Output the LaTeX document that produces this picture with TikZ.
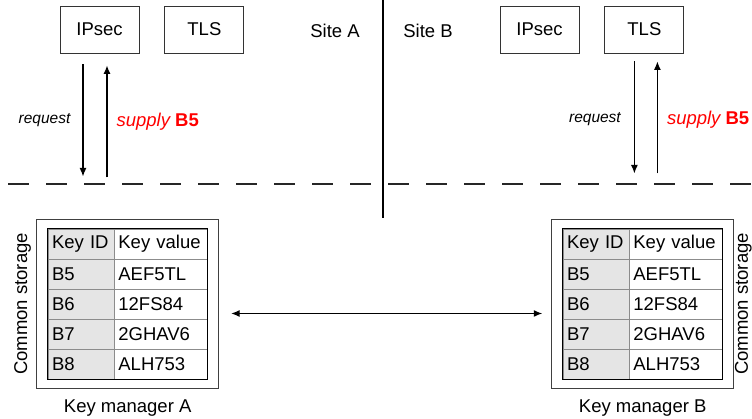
\documentclass[tikz,border=0pt]{standalone}
\usepackage{fontspec}
\setmainfont{Liberation Sans}
\usetikzlibrary{arrows.meta, positioning, fit}
\tikzset{
    proto/.style={rectangle, draw=black!80, line width=0.9pt, minimum width=79pt, minimum height=47pt, inner sep=0pt},
    site/.style={inner sep=0pt},
    idcell/.style={rectangle, draw=black!45, fill=gray!20, minimum width=66pt, minimum height=30pt, text width=58pt, align=left, inner sep=4pt},
    valcell/.style={rectangle, draw=black!45, fill=white, minimum width=93pt, minimum height=30pt, text width=85pt, align=left, inner sep=4pt},
    storebox/.style={rectangle, draw=black!75, line width=1.1pt, inner xsep=11pt, inner ysep=9pt},
    arrow/.style={-{Latex[length=8.5pt, width=7pt]}, line width=1.2pt},
    twoway/.style={{Latex[length=8.5pt, width=7pt]}-{Latex[length=8.5pt, width=7pt]}, line width=1.2pt},
    cutline/.style={dash pattern=on 20.7pt off 17.3pt, line width=1.2pt, black!85},
    request/.style={font=\fontsize{15.5}{18}\selectfont\itshape, inner sep=0pt},
    supply/.style={font=\fontsize{18.5}{22}\selectfont\itshape, text=red, inner sep=0pt},
}
\begin{document}
\begin{tikzpicture}[x=1pt, y=1pt, font=\fontsize{18.5}{22}\selectfont]
    \useasboundingbox (0,0) rectangle (752,419);

    % SITES
    \node[proto] (ipsecA) at (99.5,389.5) {IPsec};
    \node[proto, right=25pt of ipsecA] (tlsA) {TLS};
    \node[site] (siteA) at (335,388) {Site A};
    \node[site] (siteB) at (428,388) {Site B};
    \node[proto] (ipsecB) at (539.5,389.5) {IPsec};
    \node[proto, right=25pt of ipsecB] (tlsB) {TLS};

    % Separators
    \coordinate (sepTop) at (383,419);
    \coordinate (sepBot) at (383,201);
    \draw[line width=1.2pt] (sepTop) -- (sepBot);
    \coordinate (cutL) at (8,235);
    \coordinate (cutR) at (752,235);
    \draw[cutline] (cutL) -- (cutR);

    % Key tables
    \foreach \m/\x in {A/81, B/596} {
        \node[idcell] (\m-id-0) at (\x,175) {Key ID};
        \node[valcell, right=0pt of \m-id-0] (\m-val-0) {Key value};
        \foreach \k/\v [count=\i] in {B5/AEF5TL, B6/12FS84, B7/2GHAV6, B8/ALH753} {
            \node[idcell] (\m-id-\i) at (\x,{175-30*\i}) {\k};
            \node[valcell, right=0pt of \m-id-\i] (\m-val-\i) {\v};
        }
        \draw[line width=0.9pt] (\m-id-0.north west) rectangle (\m-val-4.south east);
        \node[storebox, fit=(\m-id-0)(\m-val-4)] (km\m) {};
        \node[below=11pt of km\m, inner sep=0pt] {Key manager \m};
    }
    \node[rotate=90, anchor=south, inner sep=0pt] (storeA) at ([xshift=-5pt]kmA.west) {Common storage};
    \node[rotate=90, anchor=north, inner sep=0pt] (storeB) at ([xshift=0.5pt]kmB.east) {Common storage};

    % Arrows
    \draw[arrow] ([xshift=-16.5pt, yshift=-11pt]ipsecA.south) -- ++(0,-112) node[midway, left=12pt, request] {request};
    \draw[arrow] ([xshift=7.5pt, yshift=-124pt]ipsecA.south) -- ++(0,112) node[midway, right=9pt, supply] {supply {\upshape\bfseries B5}};
    \draw[arrow] ([xshift=-10pt, yshift=-8pt]tlsB.south) -- ++(0,-112) node[midway, left=13pt, yshift=-2pt, request] {request};
    \draw[arrow] ([xshift=13pt, yshift=-120pt]tlsB.south) -- ++(0,112) node[midway, right=9pt, yshift=-2pt, supply] {supply {\upshape\bfseries B5}};
    \draw[twoway] ([shift={(12pt,-9.5pt)}]kmA.east) -- ([shift={(-9pt,-9.5pt)}]kmB.west);

\end{tikzpicture}
\end{document}
